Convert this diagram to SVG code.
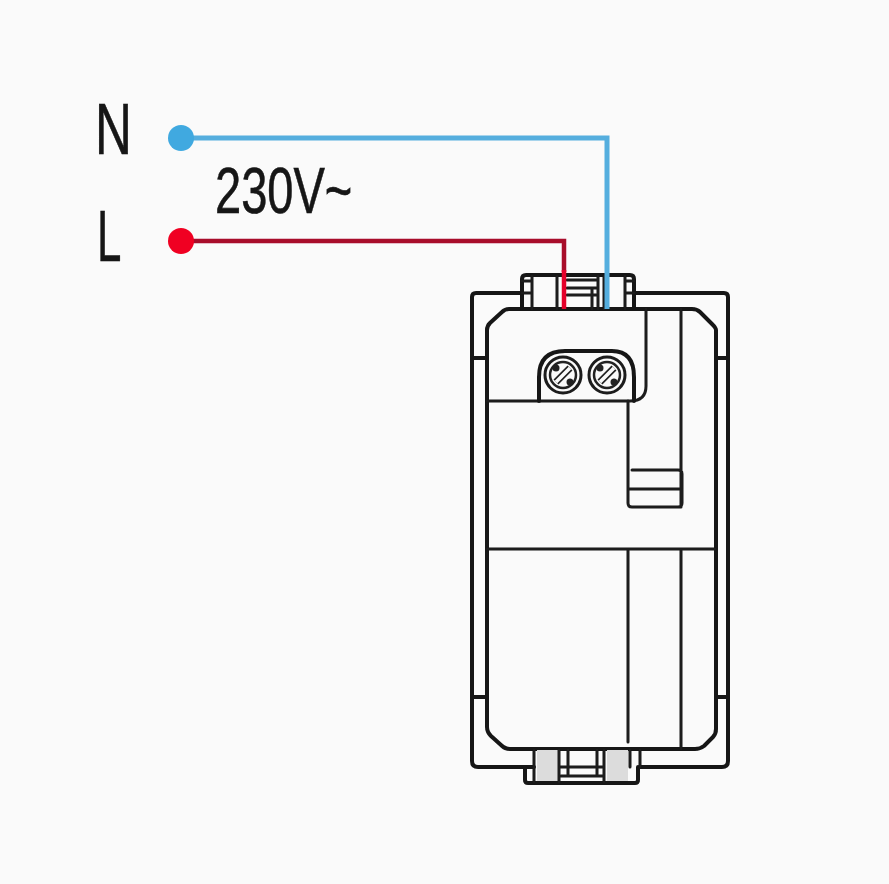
<svg xmlns="http://www.w3.org/2000/svg" width="889" height="884" viewBox="0 0 889 884">
<style>
.l{fill:none;stroke:#151515;stroke-width:4;stroke-linejoin:round;stroke-linecap:round}
.m{fill:none;stroke:#1c1c1c;stroke-width:3;stroke-linejoin:round;stroke-linecap:round}
.f{stroke:none;fill:#dcdcdc}
.x{font-family:"Liberation Sans",Arial,sans-serif;fill:#141414;stroke:#141414;stroke-width:.6}
</style>
<defs><filter id="b" x="-5%" y="-5%" width="110%" height="110%"><feGaussianBlur stdDeviation="0.6"/></filter></defs>
<rect width="889" height="884" fill="#fafafa"/>
<g filter="url(#b)">
<g id="device">
<path class="l" d="M522 293H476Q472 293 472 297V761Q472 767 478 767H534M728 297V761Q728 767 722 767H640M728 297Q728 293 724 293H636M487 358H472M716 358H728M487 697H472M716 697H728"/>
<path class="l" d="M487 330V727Q487 732 491 736L501 745Q505 749 510 749H695Q700 749 704 746L713 737Q716 734 716 729V330Q716 328 712 324L700 312Q697 309 692 309H509Q505 309 502 312L490 323Q487 326 487 330Z"/>
<path class="m" d="M487 401H630Q646 401 646 386V309"/>
<path class="m" d="M681 309V507M628 401V503Q628 507 632 507H678Q682 507 682 503V474Q682 470 678 470H632M629 489H682"/>
<path class="m" d="M487 549H715M628 549V742M681 549V749"/>
</g>
<g id="terminals">
<path class="l" d="M539 401V377Q539 351 565 351H612Q634 351 634 377V401"/>
<circle class="m" cx="563" cy="375" r="18"/><circle class="m" cx="607" cy="375" r="18"/>
<circle cx="563" cy="375" r="13" fill="none" stroke="#222" stroke-width="2.500"/><circle cx="607" cy="375" r="13" fill="none" stroke="#222" stroke-width="2.500"/>
<path d="M556 382L570 368M600 382L614 368" fill="none" stroke="#222" stroke-width="7"/>
<path d="M556 382L570 368M600 382L614 368" fill="none" stroke="#fafafa" stroke-width="3.600"/>
<g fill="#222"><circle cx="556" cy="368" r="3.500"/><circle cx="570" cy="382" r="3.500"/><circle cx="600" cy="368" r="3.500"/><circle cx="614" cy="382" r="3.500"/></g>
</g>
<g id="top-clip">
<path class="l" d="M522 309V279Q522 275 526 275H630Q634 275 634 279V309"/>
<path class="m" d="M532 276V309M522 293H532M522 281H532M557 276V309M625 276V309M625 293H634M625 281H634M567 280H598M567 288H598M567 295H598M598 276V309M592 288V309M604 276V309"/>
</g>
<g id="bottom-clip">
<path class="f" d="M537 750H558V782H537zM607 750H628V782H607z"/>
<path class="l" d="M525 767V780Q525 783 528 783H635Q638 783 638 780V767"/>
<path class="m" d="M534 750V782M559 750V782M568 750V767M597 750V767M604 750V782M630 750V767M640 750V767M559 767H604M561 776H604M568 767V776M597 767V776"/>
</g>
<g id="connectors">
<path d="M181 138H607V309" fill="none" stroke="#55aede" stroke-width="5"/>
<path d="M181 241H564V272" fill="none" stroke="#a8102c" stroke-width="4.500"/>
<path d="M564 270V309" fill="none" stroke="#e4002b" stroke-width="4.500"/>
</g>
<g id="N"><circle cx="181" cy="138" r="13" fill="#3fa9e0"/><text class="x" font-size="73" transform="translate(95,154) scale(.7,1)">N</text></g>
<g id="L"><circle cx="181" cy="241" r="13" fill="#f00020"/><text class="x" font-size="73" transform="translate(97,261) scale(.6,1)">L</text></g>
<text id="voltage" class="x" font-size="64" stroke-width="0.2" transform="translate(215,213) scale(.735,1)">230V~</text>
</g>
</svg>
